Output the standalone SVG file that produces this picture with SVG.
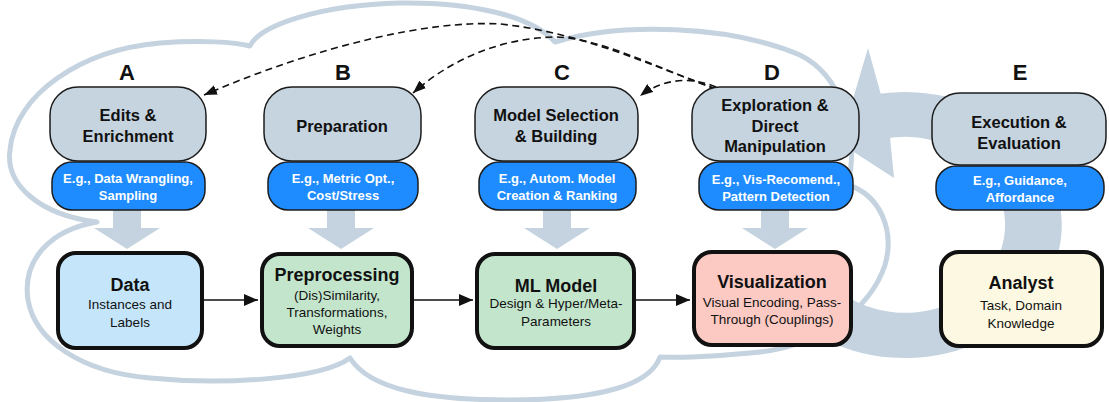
<svg xmlns="http://www.w3.org/2000/svg" width="1109" height="402" viewBox="0 0 1109 402">
<defs>
<style>
text{font-family:"Liberation Sans",Arial,Helvetica,sans-serif;text-anchor:middle;fill:#111}
.letter{font-size:22px;font-weight:bold}
.gbox{fill:#c5d4df;stroke:#1c1c1c;stroke-width:1.5}
.pill{fill:#1e8cff;stroke:#1c1c1c;stroke-width:1.5}
.gt{font-size:16.5px;font-weight:bold}
.pt{font-size:13px;font-weight:bold;fill:#fff}
.bbox{stroke:#111;stroke-width:4}
.bt{font-size:18px;font-weight:bold}
.bs{font-size:13.5px}
.soft{fill:#c4d3df}
.cloud{fill:none;stroke:#c4d3df;stroke-width:5;stroke-linejoin:round}
.solid{fill:none;stroke:#111;stroke-width:1.6}
.dash{fill:none;stroke:#111;stroke-width:1.6;stroke-dasharray:7 4.5}
</style>
<marker id="ah" viewBox="0 0 14 12" refX="14" refY="6" markerWidth="14" markerHeight="12" markerUnits="userSpaceOnUse" orient="auto"><path d="M0,0 L14,6 L0,12 z" fill="#111"/></marker>
<marker id="dh" viewBox="0 0 13 10" refX="13" refY="5" markerWidth="13" markerHeight="10" markerUnits="userSpaceOnUse" orient="auto"><path d="M0,0 L13,5 L0,10 z" fill="#111"/></marker>
</defs>

<g id="background">
<path class="cloud" d="M97,222 C40,215 5,185 10,150 C15,95 80,50 160,43 C200,40 235,42 250,46 C260,25 320,5 400,3 C470,2 530,15 555,42 C620,22 730,25 800,55 C840,75 860,130 848,185 C880,195 895,230 885,265 C870,310 820,345 760,352 C720,356 680,358 660,357 C650,385 600,400 510,400 C430,400 370,390 350,358 C320,380 220,385 150,378 C80,372 35,340 28,300 C22,260 50,230 97,222 Z"/>
<path class="soft" d="M880,93.7 A157 133 0 1 1 820,337 L830,283 A100 88 0 1 0 889,138 Z"/>
<polygon class="soft" points="868,48 881,95 890,137 894,178 840,143"/>
<polygon class="soft" points="113,208 141,208 141,228 160,228 127,249 94,228 113,228"/>
<polygon class="soft" points="327,208 355,208 355,228 374,228 341,249 308,228 327,228"/>
<polygon class="soft" points="543,208 571,208 571,228 590,228 557,249 524,228 543,228"/>
<polygon class="soft" points="761,208 789,208 789,228 808,228 775,249 742,228 761,228"/>
</g>

<g id="connectors">
<path class="solid" d="M204,300 L258,300" marker-end="url(#ah)"/>
<path class="solid" d="M414,300 L473,300" marker-end="url(#ah)"/>
<path class="solid" d="M636,300 L690,300" marker-end="url(#ah)"/>
<path class="dash" d="M716,89 C650,65 580,32 500,24 C430,20 320,45 204,95" marker-end="url(#dh)"/>
<path class="dash" d="M716,89 C650,65 600,38 555,37 C500,38 450,60 413,93" marker-end="url(#dh)"/>
<path class="dash" d="M716,87 C690,76 662,79 640,96" marker-end="url(#dh)"/>
</g>

<g id="node-A">
<text class="letter" x="127" y="80">A</text>
<rect class="gbox" x="50" y="87" width="156" height="74" rx="28"/>
<text class="gt" x="128" y="121">Edits &amp;</text>
<text class="gt" x="128" y="142">Enrichment</text>
<rect class="pill" x="52" y="162" width="153" height="48" rx="20"/>
<text class="pt" x="128" y="183">E.g., Data Wrangling,</text>
<text class="pt" x="128" y="200">Sampling</text>
</g>

<g id="node-B">
<text class="letter" x="343" y="80">B</text>
<rect class="gbox" x="264" y="87" width="157" height="74" rx="28"/>
<text class="gt" x="342" y="132">Preparation</text>
<rect class="pill" x="268" y="162" width="150" height="48" rx="20"/>
<text class="pt" x="343" y="183">E.g., Metric Opt.,</text>
<text class="pt" x="343" y="200">Cost/Stress</text>
</g>

<g id="node-C">
<text class="letter" x="562" y="80">C</text>
<rect class="gbox" x="475" y="87" width="163" height="74" rx="28"/>
<text class="gt" x="556" y="121">Model Selection</text>
<text class="gt" x="556" y="142">&amp; Building</text>
<rect class="pill" x="479" y="162" width="157" height="48" rx="20"/>
<text class="pt" x="557" y="183">E.g., Autom. Model</text>
<text class="pt" x="557" y="200">Creation &amp; Ranking</text>
</g>

<g id="node-D">
<text class="letter" x="772" y="80">D</text>
<rect class="gbox" x="692" y="87" width="167" height="74" rx="28"/>
<text class="gt" x="775" y="111">Exploration &amp;</text>
<text class="gt" x="775" y="132">Direct</text>
<text class="gt" x="775" y="152">Manipulation</text>
<rect class="pill" x="699" y="162" width="154" height="48" rx="20"/>
<text class="pt" x="776" y="184">E.g., Vis-Recomend.,</text>
<text class="pt" x="776" y="201">Pattern Detection</text>
</g>

<g id="node-E">
<text class="letter" x="1020" y="80">E</text>
<rect class="gbox" x="932" y="93" width="174" height="72" rx="28"/>
<text class="gt" x="1019" y="128">Execution &amp;</text>
<text class="gt" x="1019" y="149">Evaluation</text>
<rect class="pill" x="936" y="166" width="168" height="44" rx="20"/>
<text class="pt" x="1020" y="185">E.g., Guidance,</text>
<text class="pt" x="1020" y="202">Affordance</text>
</g>

<g id="node-data">
<rect class="bbox" x="58" y="253" width="144" height="95" rx="18" fill="#c5e6fa"/>
<text class="bt" x="130" y="291">Data</text>
<text class="bs" x="130" y="309">Instances and</text>
<text class="bs" x="130" y="327">Labels</text>
</g>

<g id="node-preprocessing">
<rect class="bbox" x="262" y="254" width="150" height="92" rx="18" fill="#c3e5cc"/>
<text class="bt" x="337" y="281">Preprocessing</text>
<text class="bs" x="337" y="300">(Dis)Similarity,</text>
<text class="bs" x="337" y="317">Transformations,</text>
<text class="bs" x="337" y="334">Weights</text>
</g>

<g id="node-ml">
<rect class="bbox" x="477" y="254" width="157" height="94" rx="18" fill="#c3e5cc"/>
<text class="bt" x="556" y="292">ML Model</text>
<text class="bs" x="556" y="308">Design &amp; Hyper/Meta-</text>
<text class="bs" x="556" y="326">Parameters</text>
</g>

<g id="node-vis">
<rect class="bbox" x="694" y="252" width="157" height="93" rx="18" fill="#fcc9c3"/>
<text class="bt" x="772" y="288">Visualization</text>
<text class="bs" x="772" y="307">Visual Encoding, Pass-</text>
<text class="bs" x="772" y="324">Through (Couplings)</text>
</g>

<g id="node-analyst">
<rect class="bbox" x="941" y="252" width="161" height="94" rx="18" fill="#fdf8e1"/>
<text class="bt" x="1021" y="289">Analyst</text>
<text class="bs" x="1021" y="310">Task, Domain</text>
<text class="bs" x="1021" y="328">Knowledge</text>
</g>
</svg>
